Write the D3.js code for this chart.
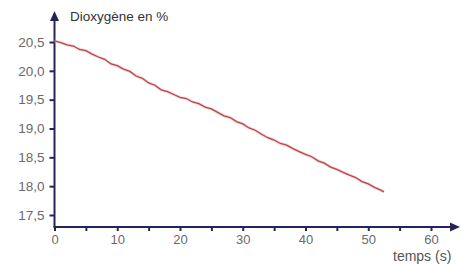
<!DOCTYPE html>
<html>
<head>
<meta charset="utf-8">
<script src="https://cdn.jsdelivr.net/npm/d3@7"></script>
<style>
  body { margin: 0; background: #fff; }
  svg text { font-family: "Liberation Sans", Arial, sans-serif; }
</style>
</head>
<body>
<div id="chart"></div>
<script>
// time (s) and dioxygen level (%)
var times = [0, 1, 2, 3, 4, 5, 6, 7, 8, 9, 10, 11, 12, 13, 14, 15, 16, 17, 18, 19,
  20, 21, 22, 23, 24, 25, 26, 27, 28, 29, 30, 31, 32, 33, 34, 35, 36, 37, 38, 39,
  40, 41, 42, 43, 44, 45, 46, 47, 48, 49, 50, 51, 52, 52.5];
var oxygen = [20.52, 20.49, 20.45, 20.43, 20.37, 20.35, 20.29, 20.24, 20.20, 20.12,
  20.09, 20.03, 19.99, 19.91, 19.87, 19.79, 19.75, 19.67, 19.64, 19.59,
  19.54, 19.52, 19.46, 19.43, 19.37, 19.34, 19.28, 19.22, 19.19, 19.12,
  19.08, 19.01, 18.97, 18.90, 18.84, 18.80, 18.74, 18.71, 18.65, 18.60,
  18.55, 18.51, 18.44, 18.40, 18.33, 18.29, 18.24, 18.19, 18.15, 18.08,
  18.04, 17.98, 17.93, 17.90];

var xTicks = [0, 10, 20, 30, 40, 50, 60];
var xMinorTicks = [5, 15, 25, 35, 45, 55];
var yTicks = [17.5, 18.0, 18.5, 19.0, 19.5, 20.0, 20.5];

var yTitle = "Dioxygène en %";
var xTitle = "temps (s)";

var data = times.map(function(t, i) { return {t: t, v: oxygen[i]}; });

var width = 461, height = 265;
var axisColor = "#24245a";
var labelColor = "#6a6a6a";

var x = d3.scaleLinear().domain([0, 60]).range([54.5, 431]);
var y = d3.scaleLinear().domain([17.5, 20.5]).range([215, 42]);

var originX = x(0), originY = 227;

var svg = d3.select("#chart").append("svg")
    .attr("width", width)
    .attr("height", height);

// y axis ticks + labels
var yAxis = svg.append("g")
    .attr("transform", "translate(" + originX + ",0)")
    .call(d3.axisLeft(y)
      .tickValues(yTicks)
      .tickSize(5)
      .tickPadding(5)
      .tickFormat(function(d) { return d3.format(".1f")(d).replace(".", ","); }));
yAxis.select(".domain").remove();
yAxis.selectAll("line").attr("stroke", axisColor).attr("stroke-width", 2);
yAxis.selectAll("text")
    .attr("fill", labelColor)
    .style("font-size", "13.5px");

// x axis ticks (major + minor share the same look)
var xAxis = svg.append("g")
    .attr("transform", "translate(0," + originY + ")")
    .call(d3.axisBottom(x)
      .tickValues(xTicks.concat(xMinorTicks))
      .tickSize(4)
      .tickPadding(4)
      .tickFormat(function(d) { return xTicks.indexOf(d) >= 0 ? d : ""; }));
xAxis.select(".domain").remove();
xAxis.selectAll("line").attr("stroke", axisColor).attr("stroke-width", 2);
xAxis.selectAll("text")
    .attr("fill", labelColor)
    .style("font-size", "13px");

// axis lines with arrows
svg.append("line")
    .attr("x1", originX).attr("y1", originY)
    .attr("x2", originX).attr("y2", 18)
    .attr("stroke", axisColor).attr("stroke-width", 2);
svg.append("path")
    .attr("d", "M" + originX + ",11 L" + (originX - 4.5) + ",21 L" + (originX + 4.5) + ",21 Z")
    .attr("fill", axisColor);

svg.append("line")
    .attr("x1", originX - 1).attr("y1", originY)
    .attr("x2", 452).attr("y2", originY)
    .attr("stroke", axisColor).attr("stroke-width", 2);
svg.append("path")
    .attr("d", "M460," + originY + " L450," + (originY - 4.5) + " L450," + (originY + 4.5) + " Z")
    .attr("fill", axisColor);

// titles
svg.append("text")
    .attr("x", 70).attr("y", 21)
    .attr("fill", "#333")
    .style("font-size", "13.5px")
    .text(yTitle);

svg.append("text")
    .attr("x", 393).attr("y", 261)
    .attr("fill", "#555")
    .style("font-size", "14px")
    .text(xTitle);

// data line
var line = d3.line()
    .x(function(d) { return x(d.t); })
    .y(function(d) { return y(d.v); });

svg.append("path")
    .datum(data)
    .attr("fill", "none")
    .attr("stroke", "#f3b5b5")
    .attr("stroke-width", 3)
    .attr("opacity", 0.6)
    .attr("d", line);

svg.append("path")
    .datum(data)
    .attr("fill", "none")
    .attr("stroke", "#b5474d")
    .attr("stroke-width", 1.3)
    .attr("d", line);
</script>
</body>
</html>
